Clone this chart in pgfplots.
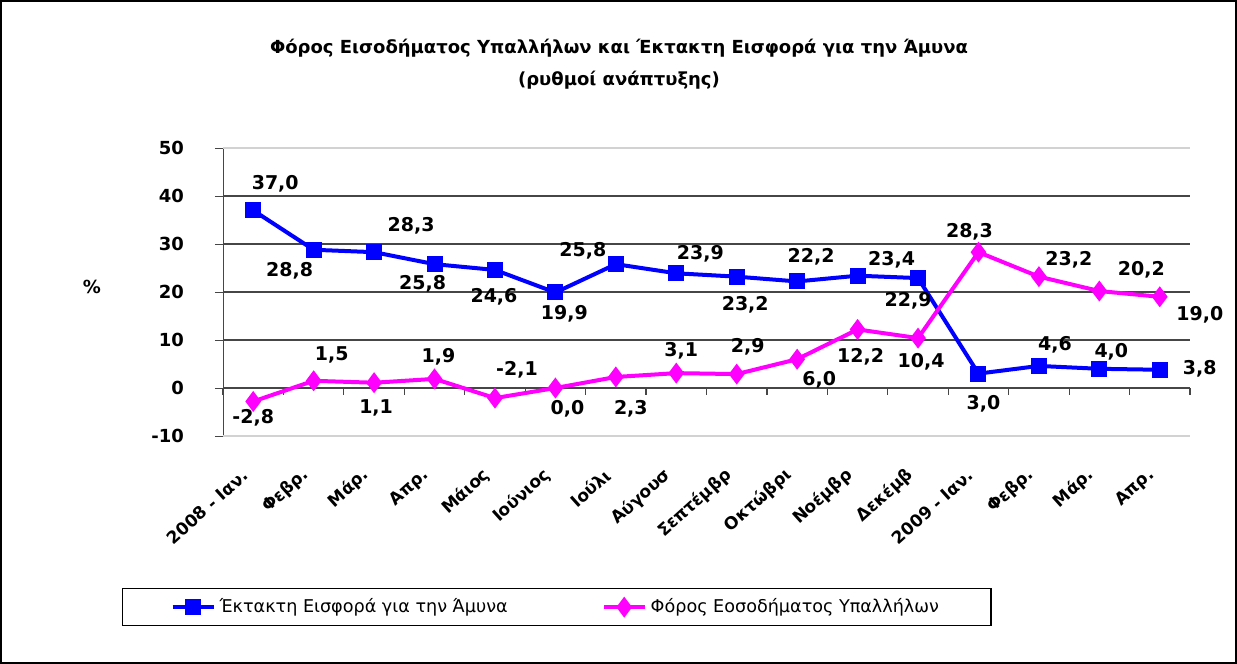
\documentclass[border=0pt]{standalone}
\usepackage{fontspec}
\setmainfont{DejaVu Sans}
\usepackage{pgfplots}
\usepackage{pgfplotstable}
\pgfplotsset{compat=1.18}
\definecolor{ektakti}{RGB}{0,0,255}
\definecolor{foros}{RGB}{255,0,255}
\definecolor{gridc}{RGB}{70,70,70}
\definecolor{lightc}{RGB}{210,210,210}

% dx, up: label offset from the point, in pixels of the 1237x664 reference
\pgfplotstableread{
x y lbl dx up
0 37.0 37,0 22 27
1 28.8 28,8 -24 -21
2 28.3 28,3 37 26
3 25.8 25,8 -12 -19.5
4 24.6 24,6 -1 -27
5 19.9 19,9 9 -21
6 25.8 25,8 -33 13
7 23.9 23,9 24 19
8 23.2 23,2 8.5 -28
9 22.2 22,2 14 25
10 23.4 23,4 34 16
11 22.9 22,9 -10 -23
12 3.0 3,0 5 -30
13 4.6 4,6 16 21
14 4.0 4,0 12 17
15 3.8 3,8 40 1
}\ektaktitab

\pgfplotstableread{
x y lbl dx up
0 -2.8 -2,8 0 -16
1 1.5 1,5 18 26
2 1.1 1,1 2 -25
3 1.9 1,9 4 22
4 -2.1 -2,1 22 28
5 0.0 0,0 12 -21
6 2.3 2,3 15 -32
7 3.1 3,1 5 22
8 2.9 2,9 11 27
9 6.0 6,0 22 -21
10 12.2 12,2 3 -27
11 10.4 10,4 3 -24
12 28.3 28,3 -9 20.5
13 23.2 23,2 30 17
14 20.2 20,2 42 21
15 19.0 19,0 40 -18
}\forostab

\pgfplotsset{
  lbls/.style={
    nodes near coords,
    point meta=explicit symbolic,
    visualization depends on={\thisrow{dx}\as\dx},
    visualization depends on={\thisrow{up}\as\up},
    every node near coord/.append style={anchor=center, text=black,
      font=\fontsize{9.5}{11}\selectfont\bfseries,
      xshift=\dx*0.5pt, yshift=\up*0.5pt},
  },
}

\begin{document}
\begin{tikzpicture}
\draw[black, line width=1pt] (0.5pt,-0.5pt) rectangle (618pt,-331.5pt);
\node[font=\fontsize{9}{11}\selectfont\bfseries] at (309.5pt,-24pt)
  {Φόρος Εισοδήματος Υπαλλήλων και Έκτακτη Εισφορά για την Άμυνα};
\node[font=\fontsize{9}{11}\selectfont\bfseries] at (309.5pt,-40pt)
  {(ρυθμοί ανάπτυξης)};
\begin{axis}[
  at={(111.5pt,-218pt)}, anchor=south west,
  scale only axis,
  width=483.5pt, height=144pt,
  xmin=-0.5, xmax=15.5,
  ymin=-10, ymax=50,
  ytick={-10,0,...,50},
  xtick={0,...,15},
  xticklabels={2008 - Ιαν., Φεβρ., Μάρ., Απρ., Μάιος, Ιούνιος, Ιούλι,
    Αύγουσ, Σεπτέμβρ, Οκτώβρι, Νοέμβρ, Δεκέμβ, 2009 - Ιαν., Φεβρ., Μάρ., Απρ.},
  axis x line*=bottom,
  axis y line*=left,
  x axis line style={lightc, -},
  y axis line style={gridc, -},
  x tick style={draw=none},
  y tick style={gridc},
  tick align=outside,
  major tick length=4pt,
  ymajorgrids,
  major grid style={gridc, line width=0.6pt},
  /pgf/number format/assume math mode=true,
  yticklabel style={font=\fontsize{9}{11}\selectfont\bfseries, xshift=-12pt},
  xticklabel style={font=\fontsize{8.5}{10}\selectfont\bfseries,
    rotate=42, anchor=east, xshift=-9pt, yshift=-8pt},
  ylabel={\%},
  ylabel style={at={(axis description cs:-0.1355,0.517)}, rotate=-90,
    anchor=center, font=\fontsize{9}{11}\selectfont\bfseries},
  legend columns=2,
  legend image code/.code={
    \draw[mark repeat=2, mark phase=2]
      plot coordinates {(0cm,0cm) (0.36cm,0cm) (0.72cm,0cm)};},
  legend style={at={(axis description cs:-0.1044,-0.528)}, anchor=north west,
    draw=black, line width=0.6pt, font=\fontsize{8.8}{10}\selectfont,
    inner xsep=24pt, inner ysep=3pt,
    /tikz/every even column/.append style={column sep=45pt}},
  clip=false,
]
\draw[lightc, line width=0.6pt] (axis cs:-0.5,50) -- (axis cs:15.5,50);
\draw[lightc, line width=0.6pt] (axis cs:-0.5,-10) -- (axis cs:15.5,-10);
\pgfplotsinvokeforeach{-0.5,0.5,1.5,2.5,3.5,4.5,5.5,6.5,7.5,8.5,9.5,10.5,11.5,12.5,13.5,14.5,15.5}{
  \draw[gridc, line width=0.6pt] (axis cs:#1,0) -- ([yshift=-3.5pt]axis cs:#1,0);
}
\addplot[ektakti, line width=2pt, mark=square*, mark size=3pt,
  mark options={solid}, lbls] table[x=x, y=y, meta=lbl]{\ektaktitab};
\addplot[foros, line width=2pt, mark=diamond*, mark size=3.6pt,
  mark options={solid}, lbls] table[x=x, y=y, meta=lbl]{\forostab};
\legend{Έκτακτη Εισφορά για την Άμυνα, Φόρος Εοσοδήματος Υπαλλήλων}
\end{axis}
\end{tikzpicture}
\end{document}
